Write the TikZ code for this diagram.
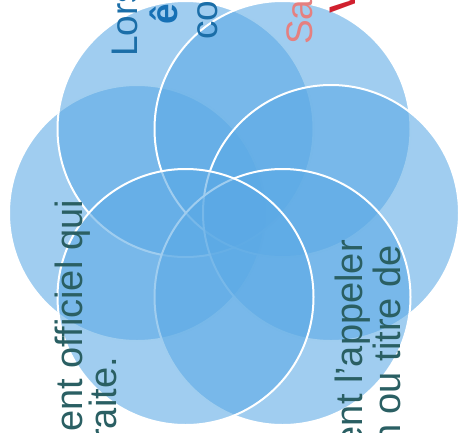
\documentclass[tikz,border=0pt]{standalone}
\usepackage{fontspec}
\setmainfont{Liberation Sans}
\usepackage{xcolor}
\usepackage{tikz}
\usetikzlibrary{shapes.geometric, positioning}
\definecolor{petalblue}{RGB}{91,169,229}
\definecolor{darkteal}{RGB}{42,95,99}
\definecolor{headblue}{RGB}{27,110,168}
\definecolor{boldblue}{RGB}{22,112,181}
\definecolor{salmon}{RGB}{229,128,128}
\definecolor{alertred}{RGB}{208,32,46}
\tikzstyle{petal} = [
    circle, minimum size=256pt, inner sep=0pt,
    draw=white, line width=2pt, fill=petalblue, fill opacity=0.58
]
\tikzstyle{sidetext} = [
    rotate=90, inner sep=0pt, text=darkteal, font=\fontsize{38}{40}\selectfont
]
\tikzstyle{toptext} = [
    rotate=90, inner sep=0pt, anchor=base west, font=\fontsize{37}{40}\selectfont
]

\begin{document}
\begin{tikzpicture}[x=1pt, y=-1pt]
        \useasboundingbox (0,0) rectangle (458,432);
        \clip (0,0) rectangle (458,432);

        % Petals
        \node[petal] (pF) at (137,213) {};
        \node[petal] (pA) at (185.5,129) {};
        \node[petal] (pB) at (282.5,129) {};
        \node[petal] (pC) at (331,213) {};
        \node[petal] (pE) at (282.5,297) {};
        \node[petal] (pD) at (185.5,297) {};

        % Top lines
        \node[toptext, text=headblue] (lors) at (137,57) {Lors};
        \node[toptext, text=boldblue, font=\fontsize{37}{40}\selectfont\bfseries]
            (etre) at (177,25) {ê};
        \node[toptext, text=headblue] (co) at (217,40) {co};
        \node[toptext, text=salmon] (sa) at (312,45) {Sa};
        \node[toptext, text=alertred, font=\fontsize{37}{40}\selectfont\bfseries]
            (vv) at (355,14) {V};

        % Left lines
        \node[sidetext, anchor=base east] (left1) at (82,200)
            {ent officiel qui};
        \node[sidetext, anchor=base east] (left2) at (116,357)
            {raite.};

        % Right lines
        \node[sidetext, anchor=base east] (right1) at (362,240)
            {ent l’appeler};
        \node[sidetext, anchor=base east] (right2) at (400,245)
            {n ou titre de};
    \end{tikzpicture}
\end{document}
